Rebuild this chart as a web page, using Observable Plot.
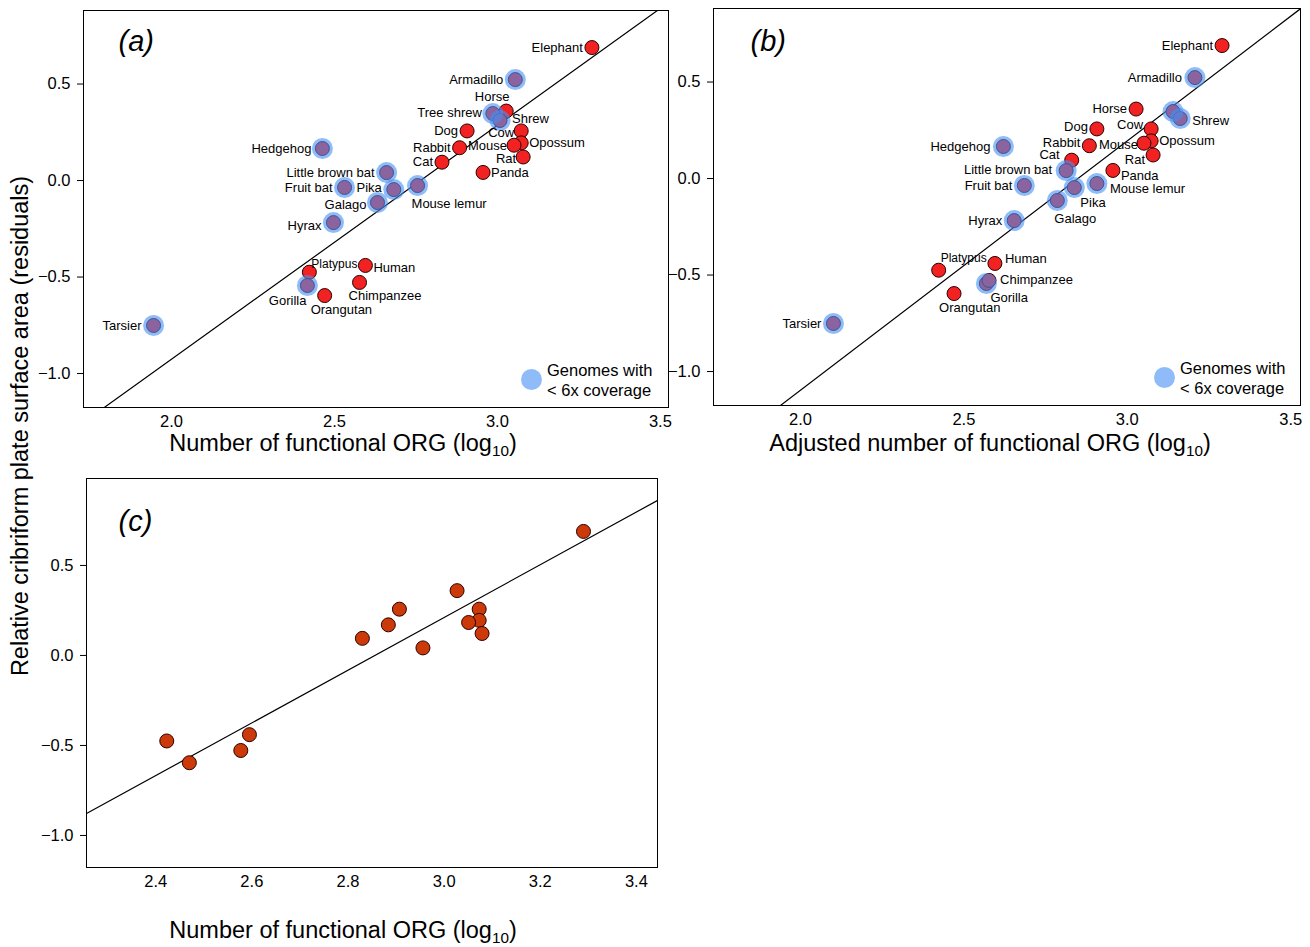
<!DOCTYPE html>
<html><head><meta charset="utf-8">
<script src="https://cdn.jsdelivr.net/npm/d3@7"></script>
<script src="https://cdn.jsdelivr.net/npm/@observablehq/plot@0.6"></script>
<style>
body{margin:0;background:#fff;font-family:"Liberation Sans",Arial,Helvetica,sans-serif;color:#000;}
#wrap{position:relative;width:1310px;height:947px;overflow:hidden;}
.panel{position:absolute;}
.xt{position:absolute;font-size:23.5px;line-height:24px;white-space:nowrap;transform:translate(-50%,-50%);}
.xt sub{font-size:0.65em;vertical-align:-0.35em;line-height:0;}
.yt{position:absolute;left:20px;top:426px;font-size:23.5px;line-height:24px;white-space:nowrap;transform:translate(-50%,-50%) rotate(-90deg);}
.leg{position:absolute;font-size:16.5px;line-height:20px;white-space:nowrap;}
.dotleg{position:absolute;width:21px;height:21px;border-radius:50%;background:rgb(143,188,248);}
</style></head><body><div id="wrap"></div>
<script>
// ---------------- data ----------------
const species = ["Elephant","Armadillo","Horse","Tree shrew","Shrew","Dog","Cow","Opossum","Mouse","Rabbit","Rat","Cat","Panda","Hedgehog","Little brown bat","Fruit bat","Pika","Mouse lemur","Galago","Hyrax","Platypus","Human","Gorilla","Chimpanzee","Orangutan","Tarsier"];
const lowCoverage = [false,true,false,true,true,false,false,false,false,false,false,false,false,true,true,true,true,true,true,true,false,false,true,false,false,true];
const orgCount = [3.29,3.055,3.027,2.986,3.008,2.907,3.073,3.073,3.051,2.884,3.079,2.83,2.956,2.463,2.66,2.531,2.682,2.755,2.632,2.497,2.423,2.595,2.417,2.577,2.47,1.945];
const orgAdjusted = [3.29,3.207,3.027,3.14,3.162,2.907,3.073,3.073,3.051,2.884,3.079,2.83,2.956,2.621,2.813,2.685,2.838,2.907,2.786,2.654,2.423,2.595,2.569,2.577,2.47,2.101];
const plateResidual = [0.689,0.523,0.36,0.347,0.311,0.257,0.257,0.195,0.183,0.17,0.122,0.095,0.042,0.166,0.041,-0.036,-0.047,-0.026,-0.114,-0.218,-0.475,-0.44,-0.544,-0.528,-0.596,-0.751];
const xTicksAB = [2.0,2.5,3.0,3.5];
const xTicksC = [2.4,2.6,2.8,3.0,3.2,3.4];
const yTicks = [-1.0,-0.5,0.0,0.5];
// fitted lines: [intercept, slope]
const fitA = [-3.350, 1.212];
const fitB = [-3.681, 1.292];
const fitC = [-4.181, 1.464];

const rows = species.map((s,i)=>({species:s, low:lowCoverage[i], org:orgCount[i], adj:orgAdjusted[i], res:plateResidual[i]}));

// ---------------- label placement (layout) ----------------
const labA = {
  "Elephant":["end",-9,0],"Armadillo":["end",-12,0],"Horse":["middle",-14,-14],"Tree shrew":["end",-11,-1],
  "Shrew":["start",12,-2],"Dog":["end",-9,0],"Cow":["end",-7,2],"Opossum":["start",8,0],"Mouse":["end",-7,1],
  "Rabbit":["end",-9,0],"Rat":["end",-7,2],"Cat":["end",-9,0],"Panda":["start",8,0],"Hedgehog":["end",-11,0],
  "Little brown bat":["end",-12,0],"Fruit bat":["end",-12,0],"Pika":["end",-12,-2],"Mouse lemur":["start",-6,18],
  "Galago":["end",-11,2],"Hyrax":["end",-12,3],"Platypus":["start",2,-8,12],"Human":["start",8,2],
  "Gorilla":["end",-1,15],"Chimpanzee":["start",-11,13],"Orangutan":["start",-14,14],"Tarsier":["end",-12,0]
};
const labB = {
  "Elephant":["end",-9,0],"Armadillo":["end",-13,0],"Horse":["end",-9,0],
  "Shrew":["start",12,2],"Dog":["end",-9,-2],"Cow":["end",-8,-4],"Opossum":["start",8,0],"Mouse":["end",-6,2],
  "Rabbit":["end",-9,-3],"Rat":["end",-8,5],"Cat":["end",-12,-5],"Panda":["start",8,5],"Hedgehog":["end",-13,0],
  "Little brown bat":["end",-14,-1],"Fruit bat":["end",-12,0],"Pika":["start",6,15],"Mouse lemur":["start",13,5],
  "Galago":["start",-3,18],"Hyrax":["end",-12,0],"Platypus":["start",2,-12,12],"Human":["start",10,-5],
  "Chimpanzee":["start",11,-1],"Gorilla":["start",4,14],"Orangutan":["start",-15,14],"Tarsier":["end",-12,0]
};

const FONT = '"Liberation Sans", Arial, Helvetica, sans-serif';
const fmt = d3.format(".1f");
const RED = "#f22222", OUT = "#2a0000";

function fitLine(fit, dom){
  const [a,b] = fit;
  return Plot.line(dom.map(x=>({x, y:a+b*x})), {x:"x", y:"y", stroke:"#000", strokeWidth:1.2, clip:true});
}
function labelMarks(data, xKey, cfg){
  return data.filter(d=>cfg[d.species]).map(d=>{
    const [anchor, dx, dy, fs] = cfg[d.species];
    return Plot.text([d], {x:xKey, y:"res", text:"species", textAnchor:anchor, dx, dy, fontSize: fs||13, fill:"#000"});
  });
}
function panelLetter(t, dx, dy){
  return Plot.text([t], {frameAnchor:"top-left", text:d=>d, dx, dy, fontSize:29, fontStyle:"italic", textAnchor:"start", lineAnchor:"middle", fill:"#000"});
}
const style = {fontFamily:FONT, fontSize:"16.5px", color:"#000", background:"none", overflow:"visible"};

function scatterPanel(xKey, xDom, fit, labels, letter, letterPos, m, w, h){
  return Plot.plot({
    width:w, height:h, marginLeft:m[0], marginRight:m[1], marginTop:m[2], marginBottom:m[3],
    x:{domain:xDom}, y:{domain:[-1.176,0.881]},
    style,
    marks:[
      Plot.axisX({ticks:xTicksAB, tickSize:0, tickPadding:8, tickFormat:fmt, label:null}),
      Plot.axisY({ticks:yTicks, tickSize:6, tickPadding:7, tickFormat:fmt, label:null}),
      fitLine(fit, xDom),
      Plot.dot(rows, {x:xKey, y:"res", r:7, fill:RED, stroke:OUT, strokeWidth:1}),
      Plot.dot(rows.filter(d=>d.low), {x:xKey, y:"res", r:10.5, fill:"rgb(68,143,243)", fillOpacity:0.6}),
      ...labelMarks(rows, xKey, labels),
      panelLetter(letter, letterPos[0], letterPos[1]),
      Plot.frame({stroke:"#000", strokeWidth:1})
    ]
  });
}

const wrap = document.getElementById("wrap");
function place(node, left, top){ node.classList.add("panel"); node.style.left=left+"px"; node.style.top=top+"px"; wrap.appendChild(node); }

place(scatterPanel("org", [1.73,3.525], fitA, labA, "(a)", [35,31], [83,12,10,33], 680, 440), 0, 0);
place(scatterPanel("adj", [1.734,3.53], fitB, labB, "(b)", [37,33], [83,10,8,35], 680, 440), 630, 0);

const cDom = [2.256,3.444];
const plotC = Plot.plot({
  width:680, height:507, marginLeft:86, marginRight:23, marginTop:38, marginBottom:80,
  x:{domain:cDom}, y:{domain:[-1.178,0.983]},
  style,
  marks:[
    Plot.axisX({ticks:xTicksC, tickSize:0, tickPadding:8, tickFormat:fmt, label:null}),
    Plot.axisY({ticks:yTicks, tickSize:6, tickPadding:7, tickFormat:fmt, label:null}),
    fitLine(fitC, cDom),
    Plot.dot(rows.filter(d=>!d.low), {x:"org", y:"res", r:7, fill:"#cd3a0a", stroke:OUT, strokeWidth:1}),
    panelLetter("(c)", 32, 43),
    Plot.frame({stroke:"#000", strokeWidth:1})
  ]
});
place(plotC, 0, 440);

function html(cls, content, css){ const d=document.createElement("div"); d.className=cls; d.innerHTML=content; Object.assign(d.style, css); wrap.appendChild(d); return d; }
html("xt", "Number of functional ORG (log<sub>10</sub>)", {left:"343px", top:"443px"});
html("xt", "Adjusted number of functional ORG (log<sub>10</sub>)", {left:"990px", top:"443px"});
html("xt", "Number of functional ORG (log<sub>10</sub>)", {left:"343px", top:"930px"});
html("yt", "Relative cribriform plate surface area (residuals)", {});
html("dotleg", "", {left:"520.5px", top:"368.5px"});
html("leg", "Genomes with<br>&lt; 6x coverage", {left:"547px", top:"360px"});
html("dotleg", "", {left:"1153.5px", top:"366.5px"});
html("leg", "Genomes with<br>&lt; 6x coverage", {left:"1180px", top:"358px"});
</script></body></html>
